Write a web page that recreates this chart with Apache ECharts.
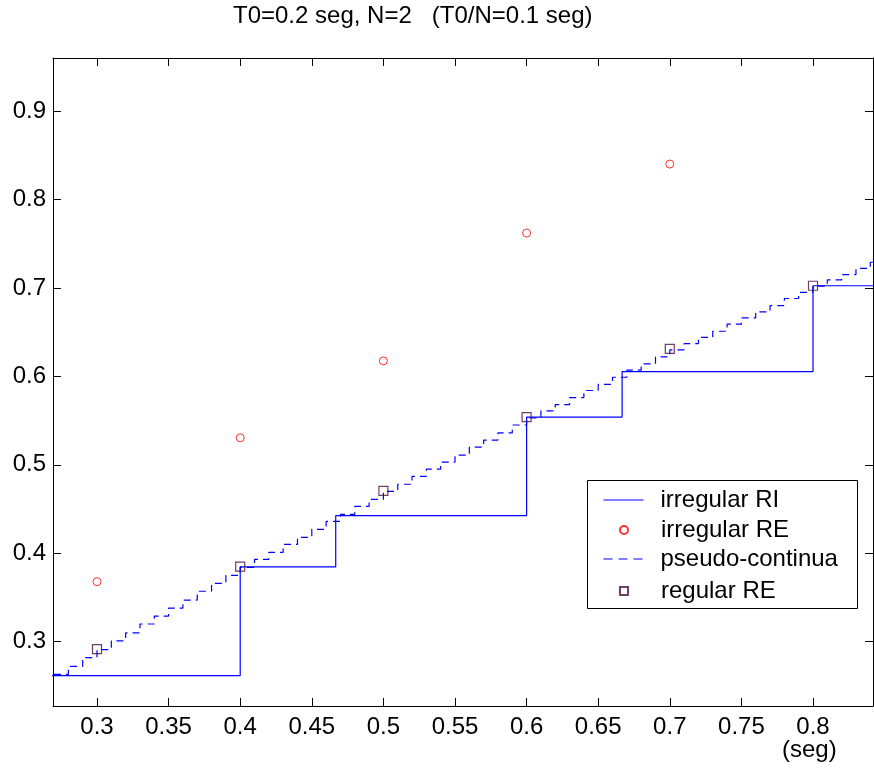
<!DOCTYPE html>
<html>
<head>
<meta charset="utf-8">
<script src="https://cdn.jsdelivr.net/npm/echarts@6/dist/echarts.min.js"></script>
<style>html,body{margin:0;padding:0;background:#fff}#c{width:874px;height:769px}</style>
</head>
<body>
<div id="c"></div>
<script>
// ---- data ----
var titleText = 'T0=0.2 seg, N=2   (T0/N=0.1 seg)';
var xAxisLabel = '(seg)';
var xTicks = [0.3, 0.35, 0.4, 0.45, 0.5, 0.55, 0.6, 0.65, 0.7, 0.75, 0.8];
var yTicks = [0.3, 0.4, 0.5, 0.6, 0.7, 0.8, 0.9];
var xRange = [0.26927, 0.8419];
var yRange = [0.22729, 0.95992];

// irregular RI (solid staircase)
var riX = [0.26, 0.4, 0.4667, 0.6, 0.6667, 0.8, 0.86];
var riY = [0.2616, 0.3845, 0.4425, 0.554, 0.6054, 0.7024, 0.7024];

// irregular RE (red circles)
var ireX = [0.3, 0.4, 0.5, 0.6, 0.7];
var ireY = [0.3678, 0.5305, 0.6175, 0.762, 0.840];

// regular RE (squares)
var reX = [0.3, 0.4, 0.5, 0.6, 0.7, 0.8];
var reY = [0.2915, 0.3848, 0.4705, 0.554, 0.631, 0.7024];

// pseudo-continua (fine dashed staircase)
var pcX = [0.27,0.28,0.29,0.30,0.31,0.32,0.33,0.34,0.35,0.36,0.37,0.38,0.39,0.40,
           0.41,0.42,0.43,0.44,0.45,0.46,0.47,0.48,0.49,0.50,
           0.51,0.52,0.53,0.54,0.55,0.56,0.57,0.58,0.59,0.60,
           0.61,0.62,0.63,0.64,0.65,0.66,0.67,0.68,0.69,0.70,
           0.71,0.72,0.73,0.74,0.75,0.76,0.77,0.78,0.79,0.80,
           0.81,0.82,0.83,0.84,0.85];
var pcY = [0.263,0.272,0.282,0.291,0.301,0.310,0.320,0.329,0.338,0.347,0.357,0.366,0.375,0.384,
           0.393,0.401,0.410,0.418,0.427,0.436,0.444,0.453,0.461,0.470,
           0.478,0.487,0.495,0.503,0.511,0.520,0.528,0.536,0.545,0.553,
           0.561,0.568,0.576,0.584,0.591,0.599,0.607,0.614,0.622,0.630,
           0.637,0.644,0.651,0.659,0.666,0.673,0.680,0.688,0.695,0.702,
           0.709,0.715,0.722,0.729,0.735];

var seriesNames = ['irregular RI', 'irregular RE', 'pseudo-continua', 'regular RE'];

function zip(a, b) { return a.map(function (v, i) { return [v, b[i]]; }); }

var FONT = 'Liberation Sans, Arial, sans-serif';
var FS = 24;
var fmt = function (v) { return String(+(+v).toFixed(3)); };

var chart = echarts.init(document.getElementById('c'), null, {renderer: 'canvas'});

function legendFor(name, left, top, w, h, pad, lineType) {
  var lg = {
    data: [{name: name}], left: left, top: top, padding: 0,
    itemWidth: w, itemHeight: h, selectedMode: false,
    textStyle: {fontFamily: FONT, fontSize: FS, color: '#000', padding: [0, 0, 0, pad]}
  };
  if (lineType) {
    lg.itemStyle = {color: 'rgba(0,0,0,0)', borderColor: 'rgba(0,0,0,0)', borderWidth: 0, opacity: 0};
    lg.lineStyle = {width: 1, type: lineType};
  }
  return lg;
}

var option = {
  backgroundColor: '#fff',
  animation: false,
  title: [
    {text: titleText, left: 233, top: 4, padding: 0,
     textStyle: {fontFamily: FONT, fontSize: FS, fontWeight: 'normal', color: '#000'}},
    {text: xAxisLabel, left: 782, top: 738, padding: 0,
     textStyle: {fontFamily: FONT, fontSize: FS, fontWeight: 'normal', color: '#000'}}
  ],
  grid: {left: 53, top: 58, width: 820, height: 648, containLabel: false},
  xAxis: [
    {type: 'value', min: xRange[0], max: xRange[1], position: 'bottom',
     axisLine: {show: true, lineStyle: {color: '#000', width: 1}},
     axisTick: {show: true, inside: true, length: 8, customValues: xTicks, lineStyle: {color: '#000'}},
     axisLabel: {show: true, customValues: xTicks, formatter: fmt, margin: 9,
                 fontFamily: FONT, fontSize: FS, color: '#000'},
     splitLine: {show: false}},
    {type: 'value', min: xRange[0], max: xRange[1], position: 'top',
     axisLine: {show: true, lineStyle: {color: '#000', width: 1}},
     axisTick: {show: true, inside: true, length: 8, customValues: xTicks, lineStyle: {color: '#000'}},
     axisLabel: {show: false}, splitLine: {show: false}}
  ],
  yAxis: [
    {type: 'value', min: yRange[0], max: yRange[1], position: 'left',
     axisLine: {show: true, lineStyle: {color: '#000', width: 1}},
     axisTick: {show: true, inside: true, length: 8, customValues: yTicks, lineStyle: {color: '#000'}},
     axisLabel: {show: true, customValues: yTicks, formatter: fmt, margin: 7,
                 fontFamily: FONT, fontSize: FS, color: '#000'},
     splitLine: {show: false}},
    {type: 'value', min: yRange[0], max: yRange[1], position: 'right',
     axisLine: {show: true, lineStyle: {color: '#000', width: 1}},
     axisTick: {show: true, inside: true, length: 8, customValues: yTicks, lineStyle: {color: '#000'}},
     axisLabel: {show: false}, splitLine: {show: false}}
  ],
  legend: [
    legendFor(seriesNames[0], 603, 488, 40, 14, 12, 'solid'),
    legendFor(seriesNames[1], 619, 518, 8, 8, 28, null),
    legendFor(seriesNames[2], 603, 547, 40, 14, 12, [9, 6]),
    legendFor(seriesNames[3], 619, 579, 8, 8, 28, null)
  ],
  graphic: [
    {type: 'rect', left: 587, top: 480, z: 3, silent: true,
     shape: {width: 270, height: 128},
     style: {fill: '#fff', stroke: '#000', lineWidth: 1}}
  ],
  series: [
    {name: seriesNames[0], type: 'line', step: 'end', data: zip(riX, riY),
     symbol: 'none', z: 3, clip: true,
     lineStyle: {color: '#0000ff', width: 1.2}, itemStyle: {color: '#0000ff'}},
    {name: seriesNames[1], type: 'scatter', data: zip(ireX, ireY),
     symbol: 'circle', symbolSize: 8, z: 5,
     itemStyle: {color: 'rgba(255,255,255,0)', borderColor: '#ff0000', borderWidth: 1}},
    {name: seriesNames[2], type: 'line', step: 'end', data: zip(pcX, pcY),
     symbol: 'none', z: 2, clip: true,
     lineStyle: {color: '#0000ff', width: 1.2, type: [7, 5]}, itemStyle: {color: '#0000ff'}},
    {name: seriesNames[3], type: 'scatter', data: zip(reX, reY),
     symbol: 'rect', symbolSize: 9, z: 6,
     itemStyle: {color: 'rgba(255,255,255,0)', borderColor: '#4a1040', borderWidth: 1.2}}
  ]
};
chart.setOption(option);
</script>
</body>
</html>
